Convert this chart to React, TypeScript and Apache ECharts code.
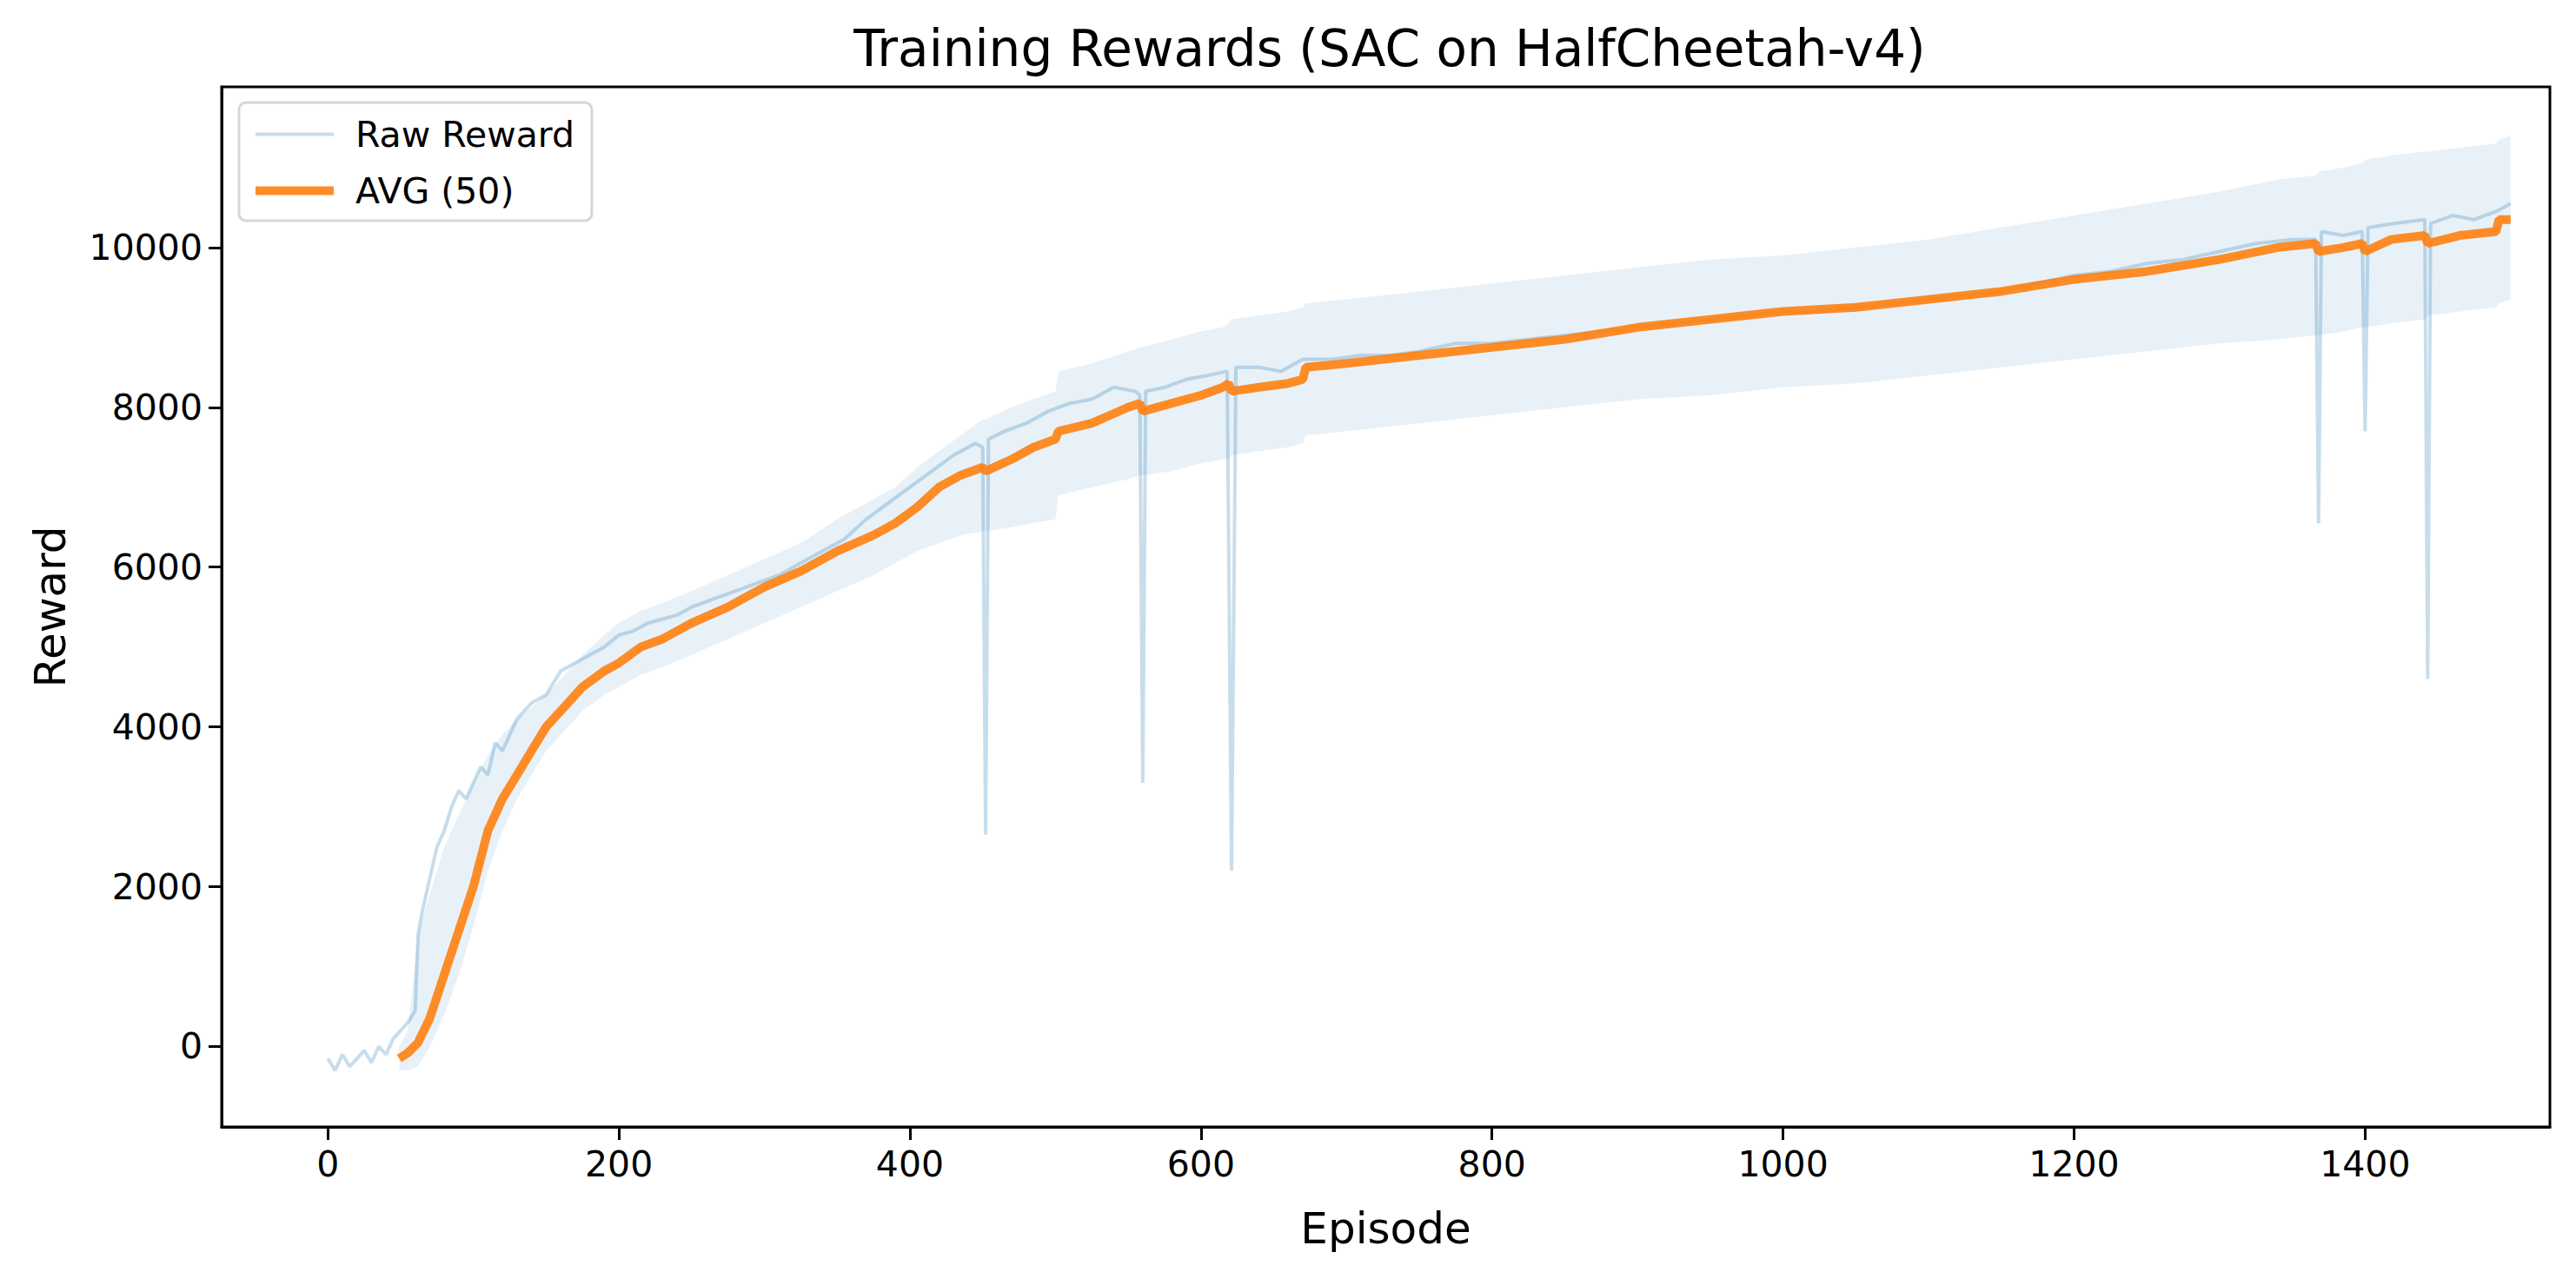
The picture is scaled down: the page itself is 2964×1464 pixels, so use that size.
import React, { useEffect, useRef } from 'react';
import * as echarts from 'echarts';

// Raw episode rewards (spikes included)
const rawEpisodes = [0, 5, 10, 15, 20, 25, 30, 35, 40, 45, 50, 55, 60, 62, 65, 70, 75, 80, 85, 90, 95, 100, 105, 110, 115, 120, 130, 140, 150, 160, 170, 180, 190, 200, 210, 220, 230, 240, 250, 265, 280, 295, 310, 325, 340, 355, 370, 385, 400, 415, 430, 445, 450, 452, 454, 465, 480, 495, 510, 525, 540, 555, 558, 560, 562, 575, 590, 605, 618, 621, 624, 640, 655, 670, 690, 710, 730, 750, 775, 800, 825, 850, 875, 900, 925, 950, 975, 1000, 1025, 1050, 1075, 1100, 1125, 1150, 1175, 1200, 1225, 1250, 1275, 1300, 1325, 1350, 1366, 1368, 1370, 1385, 1398, 1400, 1402, 1420, 1441, 1443, 1445, 1460, 1475, 1490, 1500];
const rawValues = [-150, -300, -100, -250, -150, -50, -200, 0, -100, 100, 200, 300, 450, 1400, 1700, 2100, 2500, 2700, 3000, 3200, 3100, 3300, 3500, 3400, 3800, 3700, 4100, 4300, 4400, 4700, 4800, 4900, 5000, 5150, 5200, 5300, 5350, 5400, 5500, 5600, 5700, 5800, 5900, 6050, 6200, 6350, 6600, 6800, 7000, 7200, 7400, 7550, 7500, 2650, 7600, 7700, 7800, 7950, 8050, 8100, 8250, 8200, 8150, 3300, 8200, 8250, 8350, 8400, 8450, 2200, 8500, 8500, 8450, 8600, 8600, 8650, 8650, 8700, 8800, 8800, 8850, 8900, 8950, 9000, 9050, 9100, 9150, 9200, 9200, 9250, 9300, 9350, 9400, 9450, 9550, 9650, 9700, 9800, 9850, 9950, 10050, 10100, 10100, 6550, 10200, 10150, 10200, 7700, 10250, 10300, 10350, 4600, 10300, 10400, 10350, 10450, 10550];

// Moving average (window 50) and its band
const avgEpisodes = [49, 55, 62, 70, 80, 90, 100, 110, 120, 130, 140, 150, 165, 175, 190, 200, 215, 230, 250, 275, 300, 325, 350, 375, 390, 405, 420, 435, 450, 452, 470, 485, 500, 502, 525, 550, 558, 560, 580, 600, 615, 619, 621, 640, 660, 670, 672, 700, 750, 800, 850, 900, 950, 1000, 1050, 1100, 1150, 1200, 1250, 1300, 1340, 1366, 1368, 1385, 1398, 1400, 1418, 1441, 1443, 1465, 1490, 1492, 1500];
const avgValues = [-150, -80, 50, 350, 900, 1450, 2000, 2700, 3100, 3400, 3700, 4000, 4300, 4500, 4700, 4800, 5000, 5100, 5300, 5500, 5750, 5950, 6200, 6400, 6550, 6750, 7000, 7150, 7250, 7200, 7350, 7500, 7600, 7700, 7800, 8000, 8050, 7950, 8050, 8150, 8250, 8300, 8200, 8250, 8300, 8350, 8500, 8550, 8650, 8750, 8850, 9000, 9100, 9200, 9250, 9350, 9450, 9600, 9700, 9850, 10000, 10050, 9950, 10000, 10050, 9950, 10100, 10150, 10050, 10150, 10200, 10350, 10350];
const bandUpper = [0, 200, 1400, 1900, 2500, 2900, 3300, 3650, 3900, 4100, 4250, 4400, 4700, 4900, 5150, 5300, 5450, 5550, 5700, 5900, 6100, 6300, 6600, 6850, 7000, 7250, 7450, 7650, 7850, 7850, 8000, 8100, 8200, 8450, 8550, 8700, 8750, 8750, 8850, 8950, 9000, 9050, 9100, 9150, 9200, 9250, 9300, 9350, 9450, 9550, 9650, 9750, 9850, 9900, 10000, 10100, 10250, 10400, 10550, 10700, 10850, 10900, 10950, 11000, 11050, 11100, 11150, 11200, 11200, 11250, 11300, 11350, 11400];
const bandLower = [-300, -300, -250, 0, 400, 900, 1500, 2200, 2700, 3100, 3400, 3700, 4000, 4200, 4400, 4500, 4650, 4750, 4900, 5100, 5300, 5500, 5700, 5900, 6050, 6200, 6300, 6400, 6450, 6450, 6500, 6550, 6600, 6900, 7000, 7100, 7150, 7150, 7200, 7300, 7350, 7350, 7400, 7450, 7500, 7550, 7650, 7700, 7800, 7900, 8000, 8100, 8150, 8250, 8300, 8400, 8500, 8600, 8700, 8800, 8850, 8900, 8900, 8950, 9000, 9000, 9050, 9100, 9150, 9200, 9250, 9300, 9350];

const xTicks = [0, 200, 400, 600, 800, 1000, 1200, 1400];
const yTicks = [0, 2000, 4000, 6000, 8000, 10000];

const App: React.FC = () => {
  const chartRef = useRef<HTMLDivElement>(null);

  useEffect(() => {
    if (!chartRef.current) return;
    document.body.style.margin = '0';
    const chart = echarts.init(chartRef.current, undefined, { renderer: 'svg' });
    const font = 'DejaVu Sans';

    const option = {
      animation: false,
      backgroundColor: '#ffffff',
      textStyle: { fontFamily: font },
      title: {
        text: 'Training Rewards (SAC on HalfCheetah-v4)',
        left: 1594,
        textAlign: 'center',
        top: 22,
        textStyle: { fontFamily: font, fontSize: 58, fontWeight: 'normal', color: '#000' }
      },
      legend: {
        left: 275,
        top: 118,
        orient: 'vertical',
        itemGap: 24,
        itemWidth: 90,
        itemHeight: 30,
        padding: [16, 20, 14, 14],
        borderColor: '#d6d6d6',
        borderWidth: 3,
        borderRadius: 8,
        backgroundColor: '#ffffff',
        itemStyle: { opacity: 0 },
        textStyle: { fontFamily: font, fontSize: 41, color: '#000', padding: [0, 0, 0, 20] },
        data: [
          { name: 'Raw Reward', lineStyle: { width: 4, color: 'rgba(31, 119, 180, 0.25)' } },
          { name: 'AVG (50)', lineStyle: { width: 10, color: 'rgba(255, 127, 14, 0.9)' } }
        ]
      },
      grid: {
        left: 255,
        right: 30,
        top: 100,
        bottom: 167,
        show: true,
        borderColor: '#000',
        borderWidth: 3
      },
      xAxis: {
        type: 'value',
        min: -73,
        max: 1527,
        name: 'Episode',
        nameLocation: 'middle',
        nameGap: 92,
        nameTextStyle: { fontFamily: font, fontSize: 50, color: '#000' },
        axisLine: { show: true, onZero: false, lineStyle: { color: '#000', width: 3 } },
        axisTick: { show: true, length: 15, lineStyle: { color: '#000', width: 3 }, customValues: xTicks },
        axisLabel: { fontFamily: font, fontSize: 41, color: '#000', margin: 22, customValues: xTicks, formatter: (v: number) => String(v) },
        splitLine: { show: false }
      },
      yAxis: {
        type: 'value',
        min: -1006,
        max: 12010,
        name: 'Reward',
        nameLocation: 'middle',
        nameGap: 172,
        nameTextStyle: { fontFamily: font, fontSize: 50, color: '#000' },
        axisLine: { show: true, onZero: false, lineStyle: { color: '#000', width: 3 } },
        axisTick: { show: true, length: 15, lineStyle: { color: '#000', width: 3 }, customValues: yTicks },
        axisLabel: { fontFamily: font, fontSize: 41, color: '#000', margin: 22, customValues: yTicks, formatter: (v: number) => String(v) },
        splitLine: { show: false }
      },
      series: [
        {
          name: 'band',
          type: 'custom',
          silent: true,
          data: [[avgEpisodes[0], bandLower[0]]],
          renderItem: (_params: any, api: any) => {
            const pts: number[][] = [];
            avgEpisodes.forEach((e, i) => pts.push(api.coord([e, bandUpper[i]])));
            for (let i = avgEpisodes.length - 1; i >= 0; i--) {
              pts.push(api.coord([avgEpisodes[i], bandLower[i]]));
            }
            return {
              type: 'polygon',
              shape: { points: pts },
              style: { fill: 'rgba(31, 119, 180, 0.1)', stroke: 'none' }
            };
          },
          z: 1
        },
        {
          name: 'Raw Reward',
          type: 'line',
          symbol: 'none',
          z: 2,
          itemStyle: { color: 'rgba(31, 119, 180, 0.25)' },
          lineStyle: { color: 'rgba(31, 119, 180, 0.25)', width: 4 },
          data: rawEpisodes.map((e, i) => [e, rawValues[i]])
        },
        {
          name: 'AVG (50)',
          type: 'line',
          symbol: 'none',
          z: 3,
          itemStyle: { color: 'rgba(255, 127, 14, 0.9)' },
          lineStyle: { color: 'rgba(255, 127, 14, 0.9)', width: 10 },
          data: avgEpisodes.map((e, i) => [e, avgValues[i]])
        }
      ]
    };

    chart.setOption(option);
    return () => {
      chart.dispose();
    };
  }, []);

  return <div ref={chartRef} style={{ width: '2964px', height: '1464px' }} />;
};

export default App;
